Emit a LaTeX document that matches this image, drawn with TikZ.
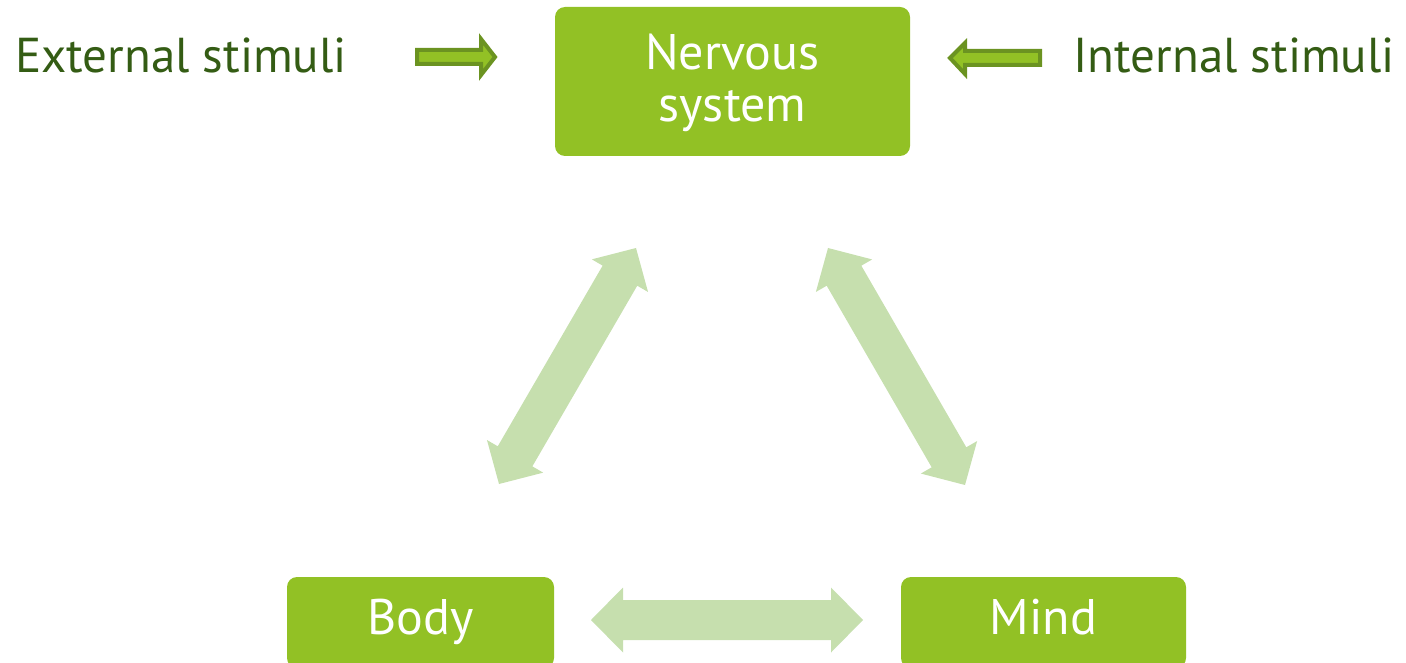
\documentclass[tikz,border=0pt]{standalone}
\usepackage{fontspec}
\setmainfont{PT Sans}
\usetikzlibrary{calc}
\definecolor{boxgreen}{HTML}{92C125}
\definecolor{softgreen}{HTML}{C6DFAE}
\definecolor{edgegreen}{HTML}{6B9321}
\definecolor{labelgreen}{HTML}{345C14}

% fat double-headed arrow between two tip coordinates
% head length 32, head half-width 32.5, shaft half-width 20
\newcommand\fatarrow[2]{%
  \fill[softgreen] (#1)
    -- ($(#1)!32pt!(#2)!32.5pt!90:(#2)$)
    -- ($(#1)!32pt!(#2)!20pt!90:(#2)$)
    -- ($(#2)!32pt!(#1)!20pt!-90:(#1)$)
    -- ($(#2)!32pt!(#1)!32.5pt!-90:(#1)$)
    -- (#2)
    -- ($(#2)!32pt!(#1)!32.5pt!90:(#1)$)
    -- ($(#2)!32pt!(#1)!20pt!90:(#1)$)
    -- ($(#1)!32pt!(#2)!20pt!-90:(#2)$)
    -- ($(#1)!32pt!(#2)!32.5pt!-90:(#2)$)
    -- cycle;}

\tikzset{
  greenbox/.style={fill=boxgreen, rounded corners=10pt},
  boxtext/.style={text=white, font=\fontsize{50}{52}\selectfont, inner sep=0pt},
  stimtext/.style={text=labelgreen, font=\fontsize{49}{52}\selectfont, inner sep=0pt},
  smallarrow/.style={fill=boxgreen, draw=edgegreen, line width=4pt, line join=miter},
}

\begin{document}
\begin{tikzpicture}[x=1pt, y=-1pt]
  \useasboundingbox (0,0) rectangle (1406,663);
  \clip (0,0) rectangle (1406,663);

  % boxes
  \fill[greenbox] (555,7) rectangle (910,156);
  \fill[greenbox] (287,577) rectangle (554,668);
  \fill[greenbox] (901,577) rectangle (1186,668);

  \node[boxtext, anchor=base] (nervous) at (732.5,70) {Nervous};
  \node[boxtext, anchor=base] (system) at (732.5,122) {system};
  \node[boxtext, anchor=base] (body) at (420.5,634) {Body};
  \node[boxtext, anchor=base] (mind) at (1043.5,634) {Mind};

  % stimuli labels
  \node[stimtext, anchor=base west] (ext) at (15,73) {External stimuli};
  \node[stimtext, anchor=base east] (int) at (1395,73) {Internal stimuli};

  % small block arrows towards the nervous system
  \draw[smallarrow] (417,50) -- (481,50) -- (481,39) -- (495,57) -- (481,75)
    -- (481,64) -- (417,64) -- cycle;
  \draw[smallarrow] (1040,51) -- (965,51) -- (965,43) -- (950,58) -- (965,74)
    -- (965,65) -- (1040,65) -- cycle;

  % tips of the interaction arrows
  \coordinate (lb) at (499,484);
  \coordinate (lt) at (636,248);
  \coordinate (rt) at (828,248);
  \coordinate (rb) at (965,485);
  \coordinate (hl) at (591,620);
  \coordinate (hr) at (863,620);

  \fatarrow{lb}{lt}
  \fatarrow{rt}{rb}
  \fatarrow{hl}{hr}
\end{tikzpicture}
\end{document}
